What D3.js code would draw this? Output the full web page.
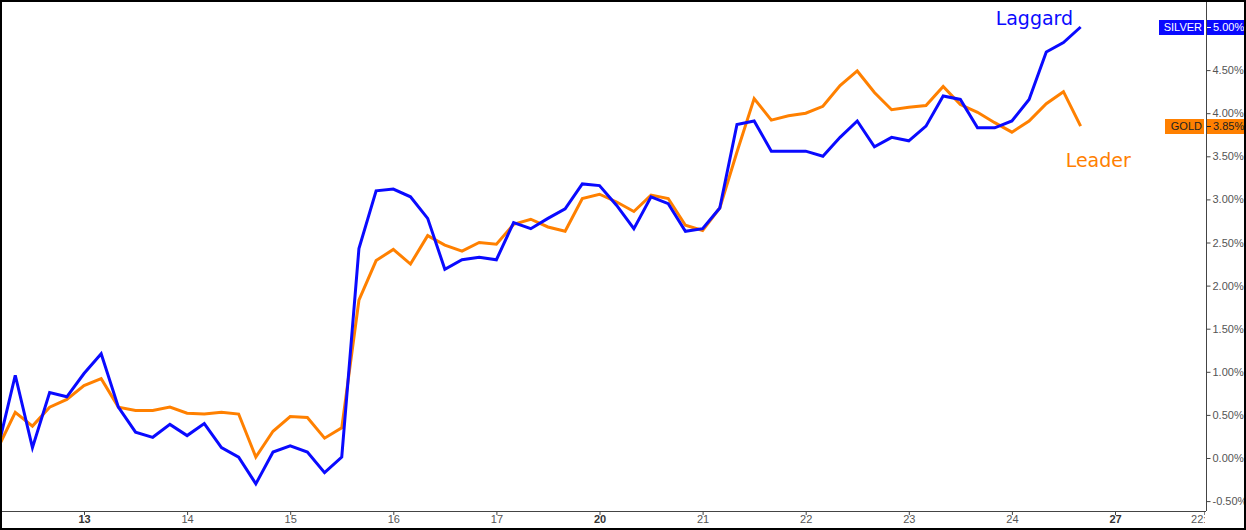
<!DOCTYPE html>
<html><head><meta charset="utf-8">
<script src="https://cdn.jsdelivr.net/npm/d3@7"></script>
<style>html,body{margin:0;padding:0;background:#fff}svg{display:block}</style>
</head><body>
<script>
const silver = [0.12,0.96,0.12,0.76,0.71,0.98,1.21,0.59,0.30,0.24,0.39,0.26,0.40,0.12,0.01,-0.30,0.07,0.14,0.07,-0.17,
  0.01,2.43,3.10,3.12,3.03,2.78,2.19,2.30,2.33,2.30,2.73,2.66,2.78,2.89,3.18,3.16,2.93,2.66,3.03,
  2.95,2.63,2.66,2.90,3.87,3.91,3.56,3.56,3.56,3.50,3.72,3.91,3.61,3.72,3.68,3.85,4.20,4.16,3.83,3.83,3.91,4.16,4.71,4.82,5.00];
const gold = [0.12,0.53,0.37,0.59,0.68,0.84,0.92,0.59,0.55,0.55,0.59,0.52,0.51,0.53,0.51,0.01,0.31,0.48,0.47,0.23,
  0.35,1.83,2.29,2.42,2.25,2.58,2.47,2.40,2.50,2.48,2.71,2.77,2.68,2.63,3.01,3.06,2.97,2.86,3.05,
  3.01,2.70,2.64,2.90,3.55,4.17,3.92,3.97,4.00,4.08,4.32,4.49,4.24,4.04,4.07,4.09,4.31,4.10,4.01,3.89,3.78,3.91,4.11,4.25,3.85];
const dayTickIdx = [5,11,17,23,29,35,41,47,53,59,65,70.2];
const dayTickLabels = ["13","14","15","16","17","20","21","22","23","24","27","22:00"];
const boldLabels = ["13","20","27"];
const yTicks = [-0.5,0,0.5,1,1.5,2,2.5,3,3.5,4,4.5,5];
const seriesNames = ["SILVER","GOLD"];
const annotations = ["Laggard","Leader"];

const W=1246,H=530, axisX=1206, axisY=511;
const svg=d3.select("body").append("svg").attr("width",W).attr("height",H);
const x=d3.scaleLinear().domain([5,65]).range([84,1115]);
const y=d3.scaleLinear().domain([0,5]).range([458,27]);
const BLUE="#0a0aff", ORANGE="#ff8000";

const defs=svg.append("defs");
defs.append("clipPath").attr("id","plot").append("rect")
  .attr("x",0).attr("y",0).attr("width",axisX).attr("height",axisY);
defs.append("clipPath").attr("id","xax").append("rect")
  .attr("x",0).attr("y",0).attr("width",axisX-1).attr("height",H-axisY);

const line=d3.line().x((d,i)=>x(i)).y(d=>y(d));
const g=svg.append("g").attr("clip-path","url(#plot)");
g.append("path").datum(gold).attr("d",line).attr("fill","none").attr("stroke",ORANGE).attr("stroke-width",3).attr("stroke-linejoin","miter");
g.append("path").datum(silver).attr("d",line).attr("fill","none").attr("stroke",BLUE).attr("stroke-width",3).attr("stroke-linejoin","miter");

// bottom axis
const xa=svg.append("g").attr("transform",`translate(0,${axisY})`).attr("clip-path","url(#xax)")
  .call(d3.axisBottom(x).tickValues(dayTickIdx).tickFormat((d,i)=>dayTickLabels[i]).tickSize(4).tickSizeOuter(0));
xa.select(".domain").remove();
xa.selectAll("line").attr("stroke","#444");
xa.selectAll("text").attr("font-family","Liberation Sans, Arial, sans-serif").attr("font-size",11)
  .attr("dy","0.62em").attr("y",5)
  .attr("font-weight",(d,i)=>boldLabels.includes(dayTickLabels[i])?"bold":"normal")
  .attr("fill",(d,i)=>boldLabels.includes(dayTickLabels[i])?"#333":"#555");
svg.append("line").attr("x1",0).attr("x2",axisX).attr("y1",axisY+0.5).attr("y2",axisY+0.5).attr("stroke","#444");

// right axis
const ya=svg.append("g").attr("transform",`translate(${axisX+0.5},0)`)
  .call(d3.axisRight(y).tickValues(yTicks).tickFormat(d=>d.toFixed(2)+"%").tickSize(4).tickSizeOuter(0));
ya.select(".domain").attr("d",`M0,0V${axisY}`).attr("stroke","#444");
ya.selectAll("line").attr("stroke","#444");
ya.selectAll("text").attr("font-family","Liberation Sans, Arial, sans-serif").attr("font-size",11).attr("fill","#555").attr("x",6);

// value badges
const lastIdx=silver.length-1;
const badges=[{name:seriesNames[0],v:silver[lastIdx],bg:BLUE,fg:"#fff",w:45},{name:seriesNames[1],v:gold[lastIdx],bg:ORANGE,fg:"#222",w:39}];
badges.forEach(b=>{
  const cy=Math.round(y(b.v));
  svg.append("rect").attr("x",axisX-2-b.w).attr("y",cy-7).attr("width",b.w).attr("height",15).attr("fill",b.bg);
  svg.append("text").attr("x",axisX-4).attr("y",cy+4).attr("text-anchor","end").attr("font-family","Liberation Sans, Arial, sans-serif")
    .attr("font-size",11).attr("fill",b.fg).text(b.name);
  svg.append("rect").attr("x",axisX+1).attr("y",cy-7).attr("width",W-axisX-3).attr("height",15).attr("fill",b.bg);
  svg.append("line").attr("x1",axisX+1).attr("x2",axisX+5).attr("y1",cy+0.5).attr("y2",cy+0.5).attr("stroke",b.fg);
  svg.append("text").attr("x",axisX+7).attr("y",cy+4).attr("font-family","Liberation Sans, Arial, sans-serif")
    .attr("font-size",11).attr("fill",b.fg).text(b.v.toFixed(2)+"%");
});

// annotations
svg.append("text").attr("x",x(lastIdx)-85).attr("y",25).attr("font-family","DejaVu Sans, Verdana, sans-serif")
  .attr("font-size",19).attr("fill",BLUE).text(annotations[0]);
svg.append("text").attr("x",x(lastIdx)-15).attr("y",167).attr("font-family","DejaVu Sans, Verdana, sans-serif")
  .attr("font-size",19).attr("fill",ORANGE).text(annotations[1]);

// outer frame
svg.append("rect").attr("x",1).attr("y",1).attr("width",W-2).attr("height",H-2).attr("fill","none").attr("stroke","#000").attr("stroke-width",2);
</script>
</body></html>
